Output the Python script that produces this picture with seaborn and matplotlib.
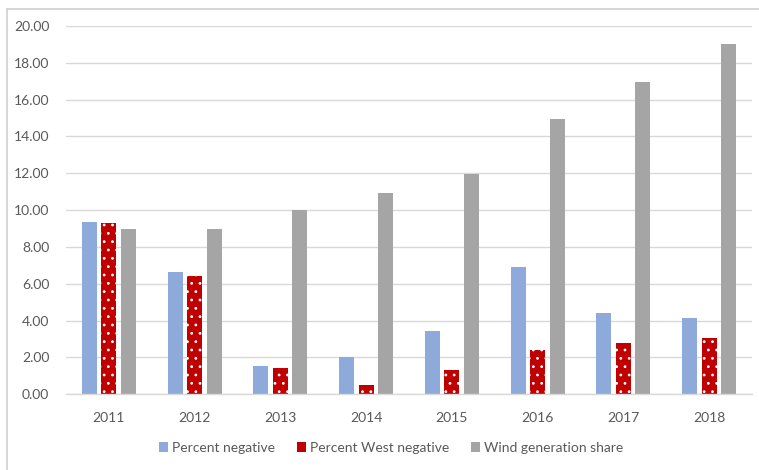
import matplotlib
matplotlib.use("Agg")
import matplotlib.pyplot as plt
import seaborn as sns
import pandas as pd
from matplotlib.patches import Patch
from matplotlib.lines import Line2D

# Yearly shares (%)
years = ["2011", "2012", "2013", "2014", "2015", "2016", "2017", "2018"]
percent_negative = [9.35, 6.62, 1.52, 2.05, 3.42, 6.90, 4.42, 4.17]
percent_west_negative = [9.28, 6.45, 1.42, 0.50, 1.32, 2.42, 2.80, 3.08]
wind_share = [8.95, 8.95, 10.00, 10.95, 11.95, 14.97, 16.98, 19.00]

series_names = ["Percent negative", "Percent West negative", "Wind generation share"]
series_colors = ["#8EAADB", "#C00000", "#A5A5A5"]
y_ticks = [0, 2, 4, 6, 8, 10, 12, 14, 16, 18, 20]

df = pd.DataFrame({
    "year": years * 3,
    "value": percent_negative + percent_west_negative + wind_share,
    "series": [series_names[0]] * len(years)
              + [series_names[1]] * len(years)
              + [series_names[2]] * len(years),
})

sns.set_theme(style="white")
plt.rcParams["font.family"] = ["Lato", "DejaVu Sans"]
plt.rcParams["hatch.color"] = "white"
plt.rcParams["hatch.linewidth"] = 0.8

text_color = "#595959"
grid_color = "#D9D9D9"

fig = plt.figure(figsize=(7.59, 4.70), dpi=100)
ax = fig.add_axes([66 / 759, 75.7 / 470, (752 - 66) / 759, (394.3 - 26) / 470])

sns.barplot(
    data=df, x="year", y="value", hue="series",
    hue_order=series_names, palette=series_colors,
    width=0.68, gap=0.23, linewidth=0, saturation=1,
    legend=False, ax=ax,
)

# White dotted fill on the West series
for bar in ax.containers[1]:
    bar.set_hatch("..")
    bar.set_edgecolor("white")
    bar.set_linewidth(0)

ax.set_ylim(0, 20)
ax.set_xlim(-0.5, len(years) - 0.5)
ax.set_yticks(y_ticks)
ax.set_yticklabels([f"{t:.2f}" for t in y_ticks])
ax.yaxis.grid(True, color=grid_color, linewidth=1.0)
ax.set_axisbelow(True)
for side in ["top", "right", "left"]:
    ax.spines[side].set_visible(False)
ax.spines["bottom"].set_color(grid_color)
ax.spines["bottom"].set_linewidth(1.0)
ax.tick_params(axis="both", length=0, labelsize=10, labelcolor=text_color)
ax.tick_params(axis="y", pad=12)
ax.tick_params(axis="x", pad=13)
ax.set_xlabel("")
ax.set_ylabel("")

# Chart frame (top and left edges)
fig.add_artist(Line2D([7 / 759, 7 / 759], [0, 1 - 9 / 470],
                      transform=fig.transFigure, color="#D0D0D0", linewidth=1.2))
fig.add_artist(Line2D([7 / 759, 1], [1 - 9 / 470, 1 - 9 / 470],
                      transform=fig.transFigure, color="#D0D0D0", linewidth=1.2))

handles = [Patch(facecolor=c, edgecolor="none") for c in series_colors]
leg = fig.legend(
    handles, series_names, loc="center", ncol=3,
    bbox_to_anchor=(391 / 759, 22 / 470), frameon=False,
    fontsize=10, handlelength=0.65, handleheight=0.65, handletextpad=0.3,
    columnspacing=1.55,
)
for t in leg.get_texts():
    t.set_color(text_color)

fig.savefig("out.png", dpi=100)
